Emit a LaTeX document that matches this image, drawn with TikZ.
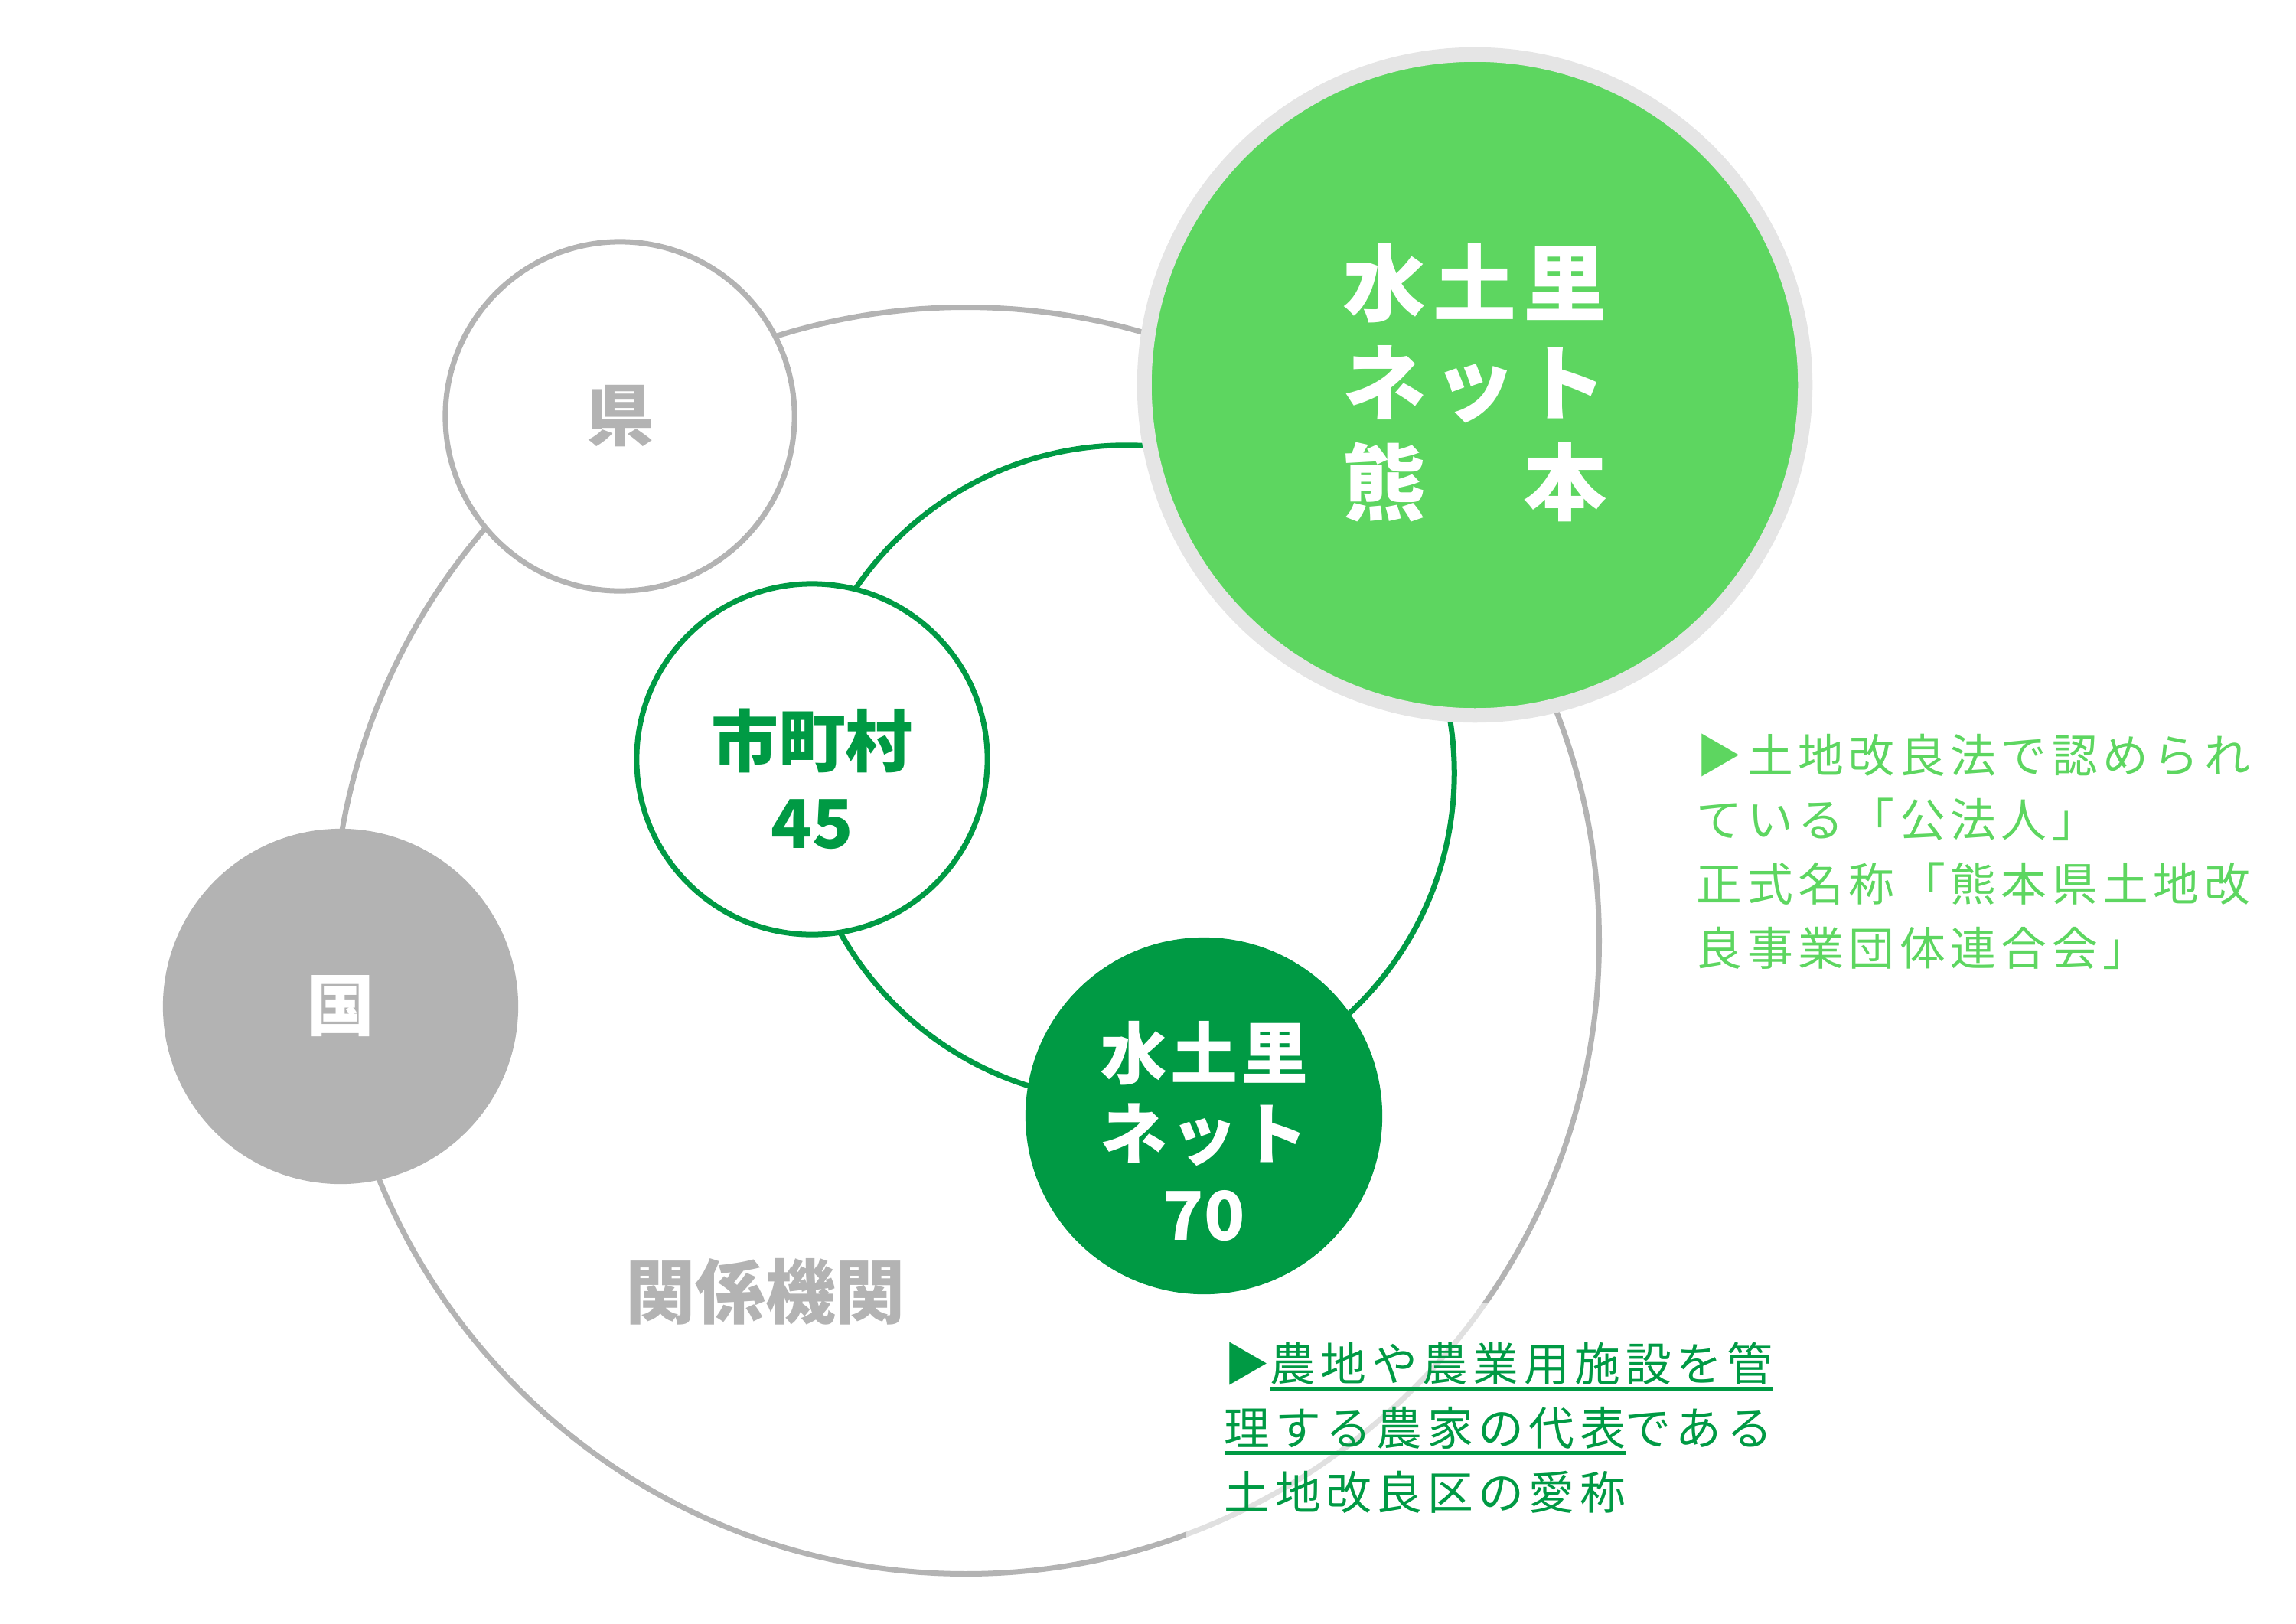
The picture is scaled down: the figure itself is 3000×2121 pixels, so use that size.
\documentclass[tikz,border=0pt]{standalone}
\usepackage{fontspec}
\newfontfamily\jp{Noto Sans CJK JP}
\newfontfamily\jpdesc[LetterSpace=11]{Noto Sans CJK JP}

\definecolor{kgray}{HTML}{B3B3B3}
\definecolor{kring}{HTML}{E5E5E5}
\definecolor{kgreen}{HTML}{5DD660}
\definecolor{kdark}{HTML}{009A44}

% マス目
\newcommand{\masuL}[1]{\makebox[1.18cm]{#1}}
\newcommand{\masuS}[1]{\makebox[0.92cm]{#1}}
% 下線
\newcommand{\ulsen}[1]{\setbox0\hbox{#1}\rlap{\rule[-0.21em]{\wd0}{0.08em}}\box0}

\begin{document}
\begin{tikzpicture}[x=0.01cm, y=-0.01cm,
    maru/.style={circle, inner sep=0pt, line width=0.07cm},
    midashi/.style={font=\jp\bfseries\fontsize{25pt}{30.4pt}\selectfont, align=center},
    setsumei/.style={font=\jpdesc\fontsize{17pt}{23.9pt}\selectfont, align=left}]
    \useasboundingbox (0,0) rectangle (3000,2121);

    % 関係機関の円
    \node[maru, draw=kgray, minimum size=16.54cm] (kankei) at (1262,1229) {};
    \node[maru, draw=kdark, minimum size=8.56cm] (naka) at (1472,1010) {};

    % 県・国・市町村
    \node[maru, draw=kgray, fill=white, minimum size=4.56cm, midashi, text=kgray] (ken) at (810,544) {県};
    \node[maru, fill=kgray, minimum size=4.64cm, midashi, text=white] (kuni) at (445,1315) {国};
    \node[maru, draw=kdark, fill=white, minimum size=4.58cm] (shichoson) at (1061,992) {};
    \node[midashi, text=kdark] (shichosonmoji) at (1061,1018) {市町村\\45};

    % 水土里ネット
    \node[maru, fill=kdark, minimum size=4.66cm] (mizusato) at (1573,1458) {};
    \node[midashi, text=white, font=\jp\bfseries\fontsize{25pt}{30.1pt}\selectfont] (mizusatomoji) at (1573,1478)
        {\masuS{水}\masuS{土}\masuS{里}\\\masuS{ネ}\masuS{ッ}\masuS{ト}\\70};

    % 水土里ネット熊本
    \node[maru, draw=kring, line width=0.19cm, fill=kgreen, minimum size=8.63cm] (kumamoto) at (1927,503) {};
    \node[midashi, text=white, font=\jp\bfseries\fontsize{31pt}{37pt}\selectfont] (kumamotomoji) at (1927,500)
        {\masuL{水}\masuL{土}\masuL{里}\\\masuL{ネ}\masuL{ッ}\masuL{ト}\\\masuL{熊}\masuL{}\masuL{本}};

    % 関係機関
    \node[midashi, text=kgray, font=\jp\bfseries\fontsize{26pt}{30pt}\selectfont] (kankeimoji) at (1000,1688) {関係機関};

    % 説明
    \node[setsumei, text=kgreen, anchor=north west, inner sep=0pt] (hojin) at (2216,958)
        {▶土地改良法で認められ\\ている「公法人」\\正式名称「熊本県土地改\\良事業団体連合会」};
    \node[setsumei, text=kdark, anchor=north west, fill=white, fill opacity=0.6, text opacity=1,
        inner xsep=0.5cm, inner ysep=0.52cm] (aisho) at (1549,1701)
        {▶\ulsen{農地や農業用施設を管}\\\ulsen{理する農家の代表}である\\土地改良区の愛称};
\end{tikzpicture}
\end{document}
